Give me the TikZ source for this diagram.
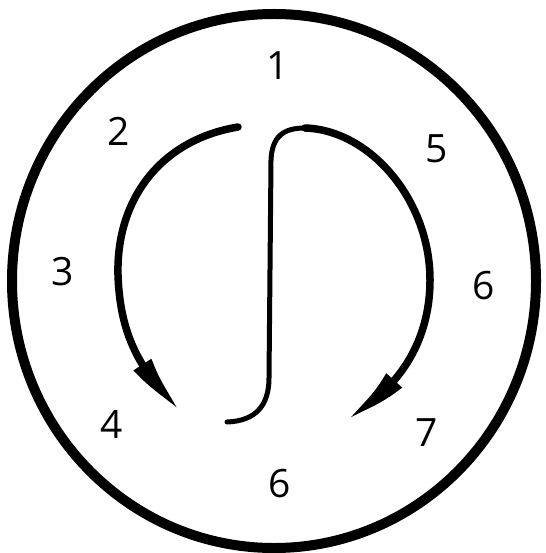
\documentclass[tikz,border=0pt]{standalone}
\usepackage{fontspec}
\setmainfont{Open Sans}
\usetikzlibrary{arrows.meta,bending}
\begin{document}
\begin{tikzpicture}[x=1pt,y=-1pt,
  lbl/.style={font=\fontsize{39}{39}\selectfont, inner sep=0pt},
  arc/.style={line width=7.5pt, line cap=round},
  thin/.style={line width=5pt, line cap=round},
  tip/.style={-{Triangle[length=64pt,width=19pt,bend]}}]
\useasboundingbox (0,0) rectangle (545,553);
\draw[line width=10pt] (274,281) ellipse [x radius=262, y radius=267];
\node[lbl] (n1) at (278,66) {1};
\node[lbl] (n2) at (119,131) {2};
\node[lbl] (n5) at (437,149) {5};
\node[lbl] (n3) at (63,272) {3};
\node[lbl] (n6a) at (484,286) {6};
\node[lbl] (n4) at (112,424) {4};
\node[lbl] (n7) at (427,433) {7};
\node[lbl] (n6b) at (280,484) {6};
\coordinate (la) at (238,127);
\coordinate (lb) at (181,410);
\coordinate (sb) at (227,422);
\coordinate (st) at (305,128);
\coordinate (rb) at (346,418);
\draw[arc,tip] (la) .. controls (160,140) and (116,200) .. (118,275)
  .. controls (120,335) and (140,372) .. (lb);
\draw[thin] (sb) .. controls (256,421) and (269,405) .. (269,378)
  -- (271,160) .. controls (272,136) and (284,128) .. (st);
\draw[arc,tip] (st) .. controls (370,130) and (430,200) .. (430,280)
  .. controls (430,340) and (400,390) .. (rb);
\end{tikzpicture}
\end{document}
